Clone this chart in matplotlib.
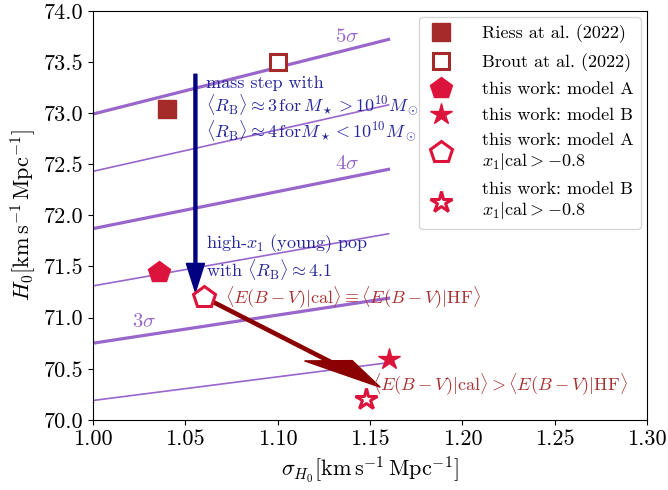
import matplotlib
matplotlib.use("Agg")
import matplotlib.pyplot as plt

plt.rcParams['font.family'] = 'serif'
plt.rcParams['font.serif'] = ['cmr10']
plt.rcParams['mathtext.fontset'] = 'cm'
plt.rcParams['axes.formatter.use_mathtext'] = True
plt.rcParams['axes.unicode_minus'] = False

# tension reference lines (end points)
line_x = [1.00, 1.16]
sigma_levels = [2.5, 3.0, 3.5, 4.0, 4.5, 5.0]
line_y = {
    2.5: [70.19, 70.56],
    3.0: [70.75, 71.19],
    3.5: [71.31, 71.82],
    4.0: [71.87, 72.45],
    4.5: [72.43, 73.08],
    5.0: [72.99, 73.72],
}

# measurements (sigma_H0, H0)
riess = (1.040, 73.04)
brout = (1.100, 73.50)
model_a = (1.036, 71.45)
model_b = (1.160, 70.60)
model_a_cut = (1.060, 71.20)
model_b_cut = (1.148, 70.20)

# arrows
blue_start = (1.0555, 73.38)
blue_end = (1.0555, 71.25)
red_end = (1.1555, 70.32)

purple = '#9966cc'
blue_txt = '#25259c'
red_txt = '#a83030'
crimson = '#dc143c'
brown = '#a52a2a'

fig, ax = plt.subplots(figsize=(6.68, 4.9), dpi=100)
fig.subplots_adjust(left=0.139, right=0.969, top=0.978, bottom=0.143)

for s in sigma_levels:
    thick = float(s).is_integer()
    ax.plot(line_x, line_y[s], color=purple, lw=2.3 if thick else 1.2, zorder=1)

ax.text(1.1375, 73.74, r'$5\sigma$', color=purple, fontsize=15, ha='center', va='center')
ax.text(1.1375, 72.50, r'$4\sigma$', color=purple, fontsize=15, ha='center', va='center')
ax.text(1.028, 70.96, r'$3\sigma$', color=purple, fontsize=15, ha='center', va='center')

# blue arrow (mass step)
ax.arrow(blue_start[0], blue_start[1], 0, blue_end[1] - blue_start[1],
         width=0.0016, head_width=0.0098, head_length=0.28,
         length_includes_head=True, color='navy', zorder=3)

# dark red arrow (dust)
ax.arrow(model_a_cut[0], model_a_cut[1], red_end[0] - model_a_cut[0], red_end[1] - model_a_cut[1],
         width=0.0038, head_width=0.026, head_length=0.26,
         length_includes_head=True, color='darkred', zorder=3)

ms = 16
ax.plot(*riess, 's', color=brown, ms=12.5, ls='none', label='Riess at al. (2022)', zorder=4)
ax.plot(*brout, 's', mfc='white', mec=brown, mew=2.2, ms=12, ls='none',
        label='Brout at al. (2022)', zorder=4)
ax.plot(*model_a, 'p', color=crimson, ms=ms, ls='none', label='this work: model A', zorder=4)
ax.plot(*model_b, '*', color=crimson, ms=ms, ls='none', label='this work: model B', zorder=4)
ax.plot(*model_a_cut, 'p', mfc='white', mec=crimson, mew=2.2, ms=ms, ls='none',
        label='this work: model A\n' + r'$x_1|\mathrm{cal} > -0.8$', zorder=4)
ax.plot(*model_b_cut, '*', mfc='white', mec=crimson, mew=2.2, ms=ms, ls='none',
        label='this work: model B\n' + r'$x_1|\mathrm{cal} > -0.8$', zorder=4)

ax.text(1.0612, 73.37,
        'mass step with\n'
        r'$\langle R_\mathrm{B}\rangle \approx 3\,\mathrm{for}\,M_\star > 10^{10}M_\odot$' + '\n'
        r'$\langle R_\mathrm{B}\rangle \approx 4\,\mathrm{for}M_\star < 10^{10}M_\odot$',
        color=blue_txt, fontsize=13, ha='left', va='top', linespacing=1.1, zorder=5)
ax.text(1.0612, 71.83,
        r'high-$x_1$ (young) pop' + '\n' + r'with $\langle R_\mathrm{B}\rangle \approx 4.1$',
        color=blue_txt, fontsize=13, ha='left', va='top', linespacing=1.1, zorder=5)
ax.text(1.0715, 71.19,
        r'$\langle E(B-V)|\mathrm{cal}\rangle \equiv \langle E(B-V)|\mathrm{HF}\rangle$',
        color=red_txt, fontsize=13, ha='left', va='center', zorder=5)
ax.text(1.151, 70.345,
        r'$\langle E(B-V)|\mathrm{cal}\rangle > \langle E(B-V)|\mathrm{HF}\rangle$',
        color=red_txt, fontsize=13, ha='left', va='center', zorder=5)

ax.set_xlim(1.0, 1.3)
ax.set_ylim(70.0, 74.0)
ax.set_xticks([1.00, 1.05, 1.10, 1.15, 1.20, 1.25, 1.30])
ax.set_yticks([70.0, 70.5, 71.0, 71.5, 72.0, 72.5, 73.0, 73.5, 74.0])
ax.xaxis.set_major_formatter(matplotlib.ticker.FormatStrFormatter('%.2f'))
ax.yaxis.set_major_formatter(matplotlib.ticker.FormatStrFormatter('%.1f'))
ax.tick_params(labelsize=16)
ax.set_xlabel(r'$\sigma_{H_0}[\mathrm{km\,s^{-1}\,Mpc^{-1}}]$', fontsize=16)
ax.set_ylabel(r'$H_0[\mathrm{km\,s^{-1}\,Mpc^{-1}}]$', fontsize=16)

ax.legend(loc='upper right', fontsize=13, borderaxespad=0.35, labelspacing=0.55,
          handletextpad=1.5, handlelength=1.6, numpoints=1)

fig.savefig('out.png', dpi=100)
